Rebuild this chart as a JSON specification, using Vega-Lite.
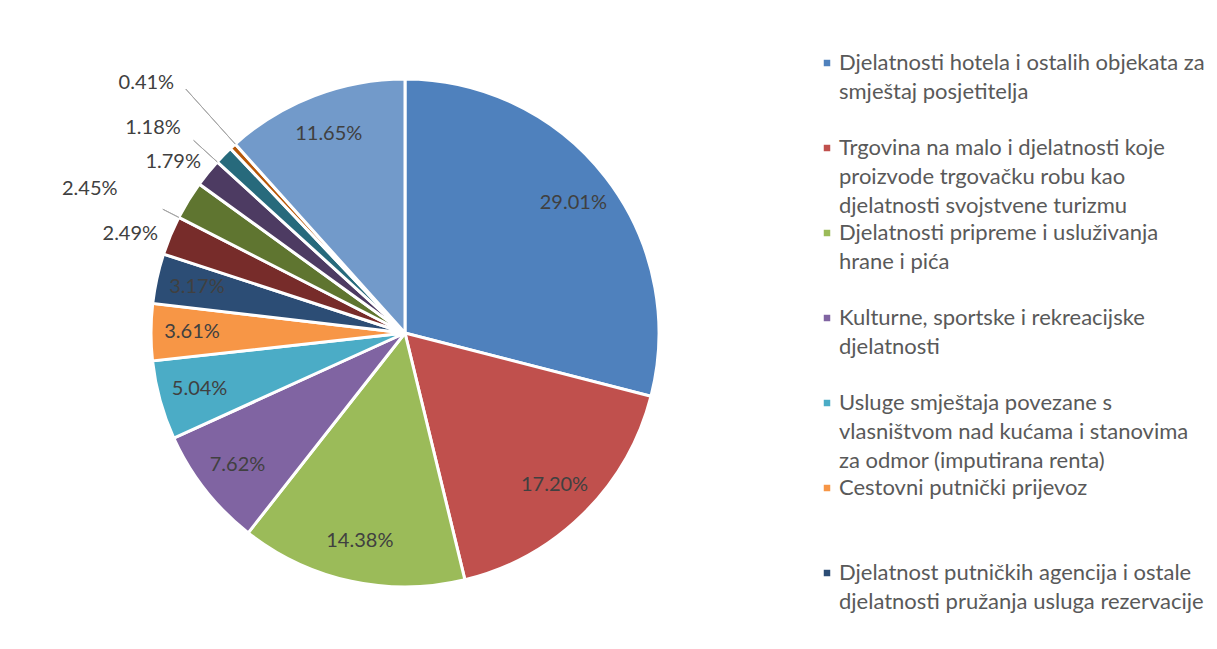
{
  "$schema": "https://vega.github.io/schema/vega-lite/v6.json",
  "width": 810,
  "height": 666,
  "padding": 0,
  "background": "white",
  "config": {
    "view": {"stroke": null},
    "font": "Lato",
    "style": {"guide-label": {"lineHeight": 29, "dy": -10}}
  },
  "data": {"values": [
    {"order": 1, "name": "Djelatnosti hotela i ostalih objekata za|smještaj posjetitelja", "share": 0.2901},
    {"order": 2, "name": "Trgovina na malo i djelatnosti koje|proizvode trgovačku robu kao|djelatnosti svojstvene turizmu", "share": 0.1720},
    {"order": 3, "name": "Djelatnosti pripreme i usluživanja|hrane i pića", "share": 0.1438},
    {"order": 4, "name": "Kulturne, sportske i rekreacijske|djelatnosti", "share": 0.0762},
    {"order": 5, "name": "Usluge smještaja povezane s|vlasništvom nad kućama i stanovima|za odmor (imputirana renta)", "share": 0.0504},
    {"order": 6, "name": "Cestovni putnički prijevoz", "share": 0.0361},
    {"order": 7, "name": "Djelatnost putničkih agencija i ostale|djelatnosti pružanja usluga rezervacije", "share": 0.0317},
    {"order": 8, "name": "Zračni putnički prijevoz", "share": 0.0249},
    {"order": 9, "name": "Iznajmljivanje opreme za prijevoz", "share": 0.0245},
    {"order": 10, "name": "Vodeni putnički prijevoz", "share": 0.0179},
    {"order": 11, "name": "Željeznički putnički prijevoz", "share": 0.0118},
    {"order": 12, "name": "Djelatnosti svojstvene pojedinoj zemlji", "share": 0.0041},
    {"order": 13, "name": "Ostale djelatnosti", "share": 0.1165}
  ]},
  "layer": [
    {
      "mark": {"type": "arc", "radius": 254, "stroke": "white", "strokeWidth": 3},
      "encoding": {
        "theta": {"field": "share", "type": "quantitative", "stack": true, "scale": {"domain": [0, 1]}},
        "order": {"field": "order", "type": "quantitative"},
        "color": {
          "field": "name", "type": "nominal",
          "scale": {
            "domain": [
              "Djelatnosti hotela i ostalih objekata za|smještaj posjetitelja",
              "Trgovina na malo i djelatnosti koje|proizvode trgovačku robu kao|djelatnosti svojstvene turizmu",
              "Djelatnosti pripreme i usluživanja|hrane i pića",
              "Kulturne, sportske i rekreacijske|djelatnosti",
              "Usluge smještaja povezane s|vlasništvom nad kućama i stanovima|za odmor (imputirana renta)",
              "Cestovni putnički prijevoz",
              "Djelatnost putničkih agencija i ostale|djelatnosti pružanja usluga rezervacije",
              "Zračni putnički prijevoz",
              "Iznajmljivanje opreme za prijevoz",
              "Vodeni putnički prijevoz",
              "Željeznički putnički prijevoz",
              "Djelatnosti svojstvene pojedinoj zemlji",
              "Ostale djelatnosti"
            ],
            "range": ["#4F81BD", "#C0504D", "#9BBB59", "#8064A2", "#4BACC6", "#F79646", "#2C4D75", "#772C2A", "#5F7530", "#4D3B62", "#276A7C", "#B65708", "#729ACA"]
          },
          "legend": {
            "orient": "none",
            "legendX": 816,
            "legendY": 52,
            "title": null,
            "padding": 0,
            "values": [
              "Djelatnosti hotela i ostalih objekata za|smještaj posjetitelja",
              "Trgovina na malo i djelatnosti koje|proizvode trgovačku robu kao|djelatnosti svojstvene turizmu",
              "Djelatnosti pripreme i usluživanja|hrane i pića",
              "Kulturne, sportske i rekreacijske|djelatnosti",
              "Usluge smještaja povezane s|vlasništvom nad kućama i stanovima|za odmor (imputirana renta)",
              "Cestovni putnički prijevoz",
              "Djelatnost putničkih agencija i ostale|djelatnosti pružanja usluga rezervacije"
            ],
            "symbolType": "square",
            "symbolSize": 42,
            "symbolStrokeWidth": 0,
            "symbolOffset": 0,
            "labelOffset": 1,
            "labelFont": "Lato",
            "labelFontSize": 22,
            "labelColor": "#595959",
            "labelLimit": 600,
            "labelBaseline": "top",
            "labelExpr": "split(datum.label + '||', '|', 3)",
            "rowPadding": 5
          }
        }
      }
    },
    {
      "mark": {"type": "text", "radius": 213, "font": "Lato", "fontSize": 20, "color": "#404040"},
      "encoding": {
        "theta": {"field": "share", "type": "quantitative", "stack": true, "scale": {"domain": [0, 1]}},
        "order": {"field": "order", "type": "quantitative"},
        "detail": {"field": "name", "type": "nominal"},
        "text": {"condition": {"test": "datum.share >= 0.03", "field": "share", "type": "quantitative", "format": ".2%"}, "value": ""}
      }
    },
    {
      "mark": {"type": "text", "radius": 291, "dx": -6, "dy": 13, "font": "Lato", "fontSize": 20, "color": "#404040"},
      "encoding": {
        "theta": {"field": "share", "type": "quantitative", "stack": true, "scale": {"domain": [0, 1]}},
        "order": {"field": "order", "type": "quantitative"},
        "detail": {"field": "name", "type": "nominal"},
        "text": {"condition": {"test": "datum.order == 8 || datum.order == 10", "field": "share", "type": "quantitative", "format": ".2%"}, "value": ""}
      }
    },
    {
      "mark": {"type": "text", "radius": 345, "dx": -21, "dy": 36, "font": "Lato", "fontSize": 20, "color": "#404040"},
      "encoding": {
        "theta": {"field": "share", "type": "quantitative", "stack": true, "scale": {"domain": [0, 1]}},
        "order": {"field": "order", "type": "quantitative"},
        "detail": {"field": "name", "type": "nominal"},
        "text": {"condition": {"test": "datum.order == 9", "field": "share", "type": "quantitative", "format": ".2%"}, "value": ""}
      }
    },
    {
      "mark": {"type": "text", "radius": 325, "dx": -20, "dy": 23, "font": "Lato", "fontSize": 20, "color": "#404040"},
      "encoding": {
        "theta": {"field": "share", "type": "quantitative", "stack": true, "scale": {"domain": [0, 1]}},
        "order": {"field": "order", "type": "quantitative"},
        "detail": {"field": "name", "type": "nominal"},
        "text": {"condition": {"test": "datum.order == 11", "field": "share", "type": "quantitative", "format": ".2%"}, "value": ""}
      }
    },
    {
      "mark": {"type": "text", "radius": 355, "dx": -18, "dy": 11, "font": "Lato", "fontSize": 20, "color": "#404040"},
      "encoding": {
        "theta": {"field": "share", "type": "quantitative", "stack": true, "scale": {"domain": [0, 1]}},
        "order": {"field": "order", "type": "quantitative"},
        "detail": {"field": "name", "type": "nominal"},
        "text": {"condition": {"test": "datum.order == 12", "field": "share", "type": "quantitative", "format": ".2%"}, "value": ""}
      }
    },
    {
      "transform": [
        {"stack": "share", "groupby": [], "sort": [{"field": "order", "order": "ascending"}], "as": ["s0", "s1"]},
        {"filter": "datum.order == 12"}
      ],
      "mark": {"type": "arc", "radius": 328, "radius2": 254, "filled": false, "stroke": "#A6A6A6", "strokeWidth": 1},
      "encoding": {
        "theta": {"field": "s1", "type": "quantitative", "scale": {"domain": [0, 1]}},
        "theta2": {"field": "s1"}
      }
    },
    {
      "transform": [
        {"stack": "share", "groupby": [], "sort": [{"field": "order", "order": "ascending"}], "as": ["s0", "s1"]},
        {"filter": "datum.order == 11"}
      ],
      "mark": {"type": "arc", "radius": 286, "radius2": 254, "filled": false, "stroke": "#A6A6A6", "strokeWidth": 1},
      "encoding": {
        "theta": {"field": "s0", "type": "quantitative", "scale": {"domain": [0, 1]}},
        "theta2": {"field": "s0"}
      }
    },
    {
      "transform": [
        {"stack": "share", "groupby": [], "sort": [{"field": "order", "order": "ascending"}], "as": ["s0", "s1"]},
        {"filter": "datum.order == 9"}
      ],
      "mark": {"type": "arc", "radius": 272, "radius2": 254, "filled": false, "stroke": "#A6A6A6", "strokeWidth": 1},
      "encoding": {
        "theta": {"field": "s0", "type": "quantitative", "scale": {"domain": [0, 1]}},
        "theta2": {"field": "s0"}
      }
    }
  ]
}
